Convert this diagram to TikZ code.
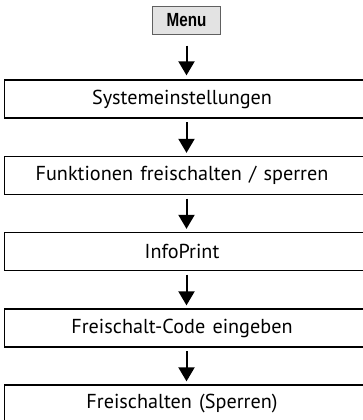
\documentclass[tikz,border=0pt]{standalone}
\usepackage{fontspec}
\setmainfont{PT Sans}[WordSpace=1.35]
\newfontfamily\menufont{Liberation Sans}
\usetikzlibrary{arrows.meta,calc}
\begin{document}
\begin{tikzpicture}[x=1pt,y=-1pt,
  stepbox/.style={draw=black, line width=1.3pt, minimum width=360pt, minimum height=38pt,
    inner sep=0pt, font=\fontsize{20.2}{22}\selectfont},
  menubox/.style={draw=gray!75!black, fill=gray!22, line width=1pt, minimum width=68pt,
    minimum height=28pt, inner sep=0pt, font=\menufont\bfseries\fontsize{19}{20}\selectfont},
  flow/.style={line width=2pt, -{Triangle[width=16pt,length=14pt]}}]
\useasboundingbox (0,0) rectangle (363,420);
\node[menubox] (m) at (186.5,20.2) {\scalebox{0.8}[1]{Menu}};
\node[stepbox] (b1) at (184.3,99)    {\kern-4.6pt Systemeinstellungen};
\node[stepbox] (b2) at (184.3,175.5) {\kern-4.6pt Funktionen freischalten / sperren};
\node[stepbox] (b3) at (184.3,251.5) {\kern-4.6pt InfoPrint};
\node[stepbox] (b4) at (184.3,328)   {\kern-4.6pt Freischalt-Code eingeben};
\node[stepbox] (b5) at (184.3,404)   {\kern-4.6pt Freischalten (Sperren)};
\draw[flow] ($(m.south)+(0,-11pt)$) -- ($(b1.north -| m.south)+(0,4pt)$);
\foreach \a/\b in {b1/b2,b2/b3,b3/b4,b4/b5}{
  \draw[flow] ($(\a.south -| m.south)+(0,-3.5pt)$) -- ($(\b.north -| m.south)+(0,3pt)$);
}
\end{tikzpicture}
\end{document}
